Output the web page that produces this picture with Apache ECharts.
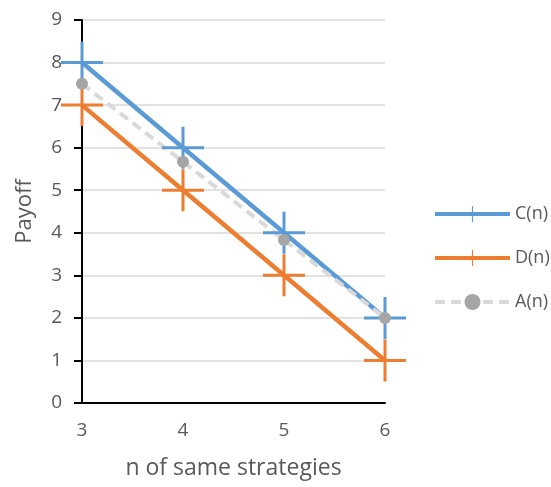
<!DOCTYPE html>
<html>
<head>
<meta charset="utf-8">
<script src="https://cdn.jsdelivr.net/npm/echarts@6/dist/echarts.min.js"></script>
<style>html,body{margin:0;padding:0;background:#fff}#c{width:551px;height:487px}</style>
</head>
<body>
<div id="c"></div>
<script>
var nValues = [3, 4, 5, 6];
var cValues = [8, 6, 4, 2];
var dValues = [7, 5, 3, 1];
var aValues = [7.5, 5.67, 3.83, 2];
var seriesNames = ['C(n)', 'D(n)', 'A(n)'];

var plusPath = 'path://M-1.5,-21 L1.5,-21 L1.5,-1.5 L21,-1.5 L21,1.5 L1.5,1.5 L1.5,21 L-1.5,21 L-1.5,1.5 L-21,1.5 L-21,-1.5 L-1.5,-1.5 Z';
function pairs(vals){ return nValues.map(function(n,i){ return [n, vals[i]]; }); }
var font = '"Open Sans", sans-serif';
var chart = echarts.init(document.getElementById('c'));
chart.setOption({
  animation: false,
  textStyle: {fontFamily: font},
  grid: {left: 82, right: 166, top: 20, bottom: 84},
  legend: {
    orient: 'vertical', left: 428, top: 200, itemGap: 26,
    itemWidth: 75, itemHeight: 20,
    lineStyle: {width: 4},
    textStyle: {fontSize: 18, color: '#595959', fontFamily: font},
    data: seriesNames
  },
  xAxis: {
    type: 'value', min: 3, max: 6, interval: 1,
    name: 'n of same strategies', nameLocation: 'middle', nameGap: 54,
    nameTextStyle: {fontSize: 23, color: '#595959', fontFamily: font},
    axisLine: {lineStyle: {color: '#000', width: 2}},
    axisTick: {show: false},
    splitLine: {show: false},
    axisLabel: {fontSize: 19, color: '#595959', margin: 18, fontFamily: font}
  },
  yAxis: {
    type: 'value', min: 0, max: 9, interval: 1,
    name: 'Payoff', nameLocation: 'middle', nameGap: 46,
    nameTextStyle: {fontSize: 22, color: '#595959', fontFamily: font},
    axisLine: {show: true, lineStyle: {color: '#000', width: 2}},
    axisTick: {show: true, length: 8, lineStyle: {color: '#000', width: 2}},
    splitLine: {lineStyle: {color: '#d9d9d9', width: 1.5}},
    axisLabel: {fontSize: 19, color: '#595959', margin: 20, fontFamily: font}
  },
  series: [
    {name: seriesNames[0], type: 'line', data: pairs(cValues),
     lineStyle: {color: '#5b9bd5', width: 4.5}, itemStyle: {color: '#5b9bd5'},
     symbol: plusPath, symbolSize: 42},
    {name: seriesNames[1], type: 'line', data: pairs(dValues),
     lineStyle: {color: '#ed7d31', width: 4.5}, itemStyle: {color: '#ed7d31'},
     symbol: plusPath, symbolSize: 42},
    {name: seriesNames[2], type: 'line', data: pairs(aValues),
     lineStyle: {color: '#d9d9d9', width: 4, type: [10, 6]}, itemStyle: {color: '#a5a5a5'},
     symbol: 'circle', symbolSize: 12}
  ]
});
</script>
</body>
</html>
